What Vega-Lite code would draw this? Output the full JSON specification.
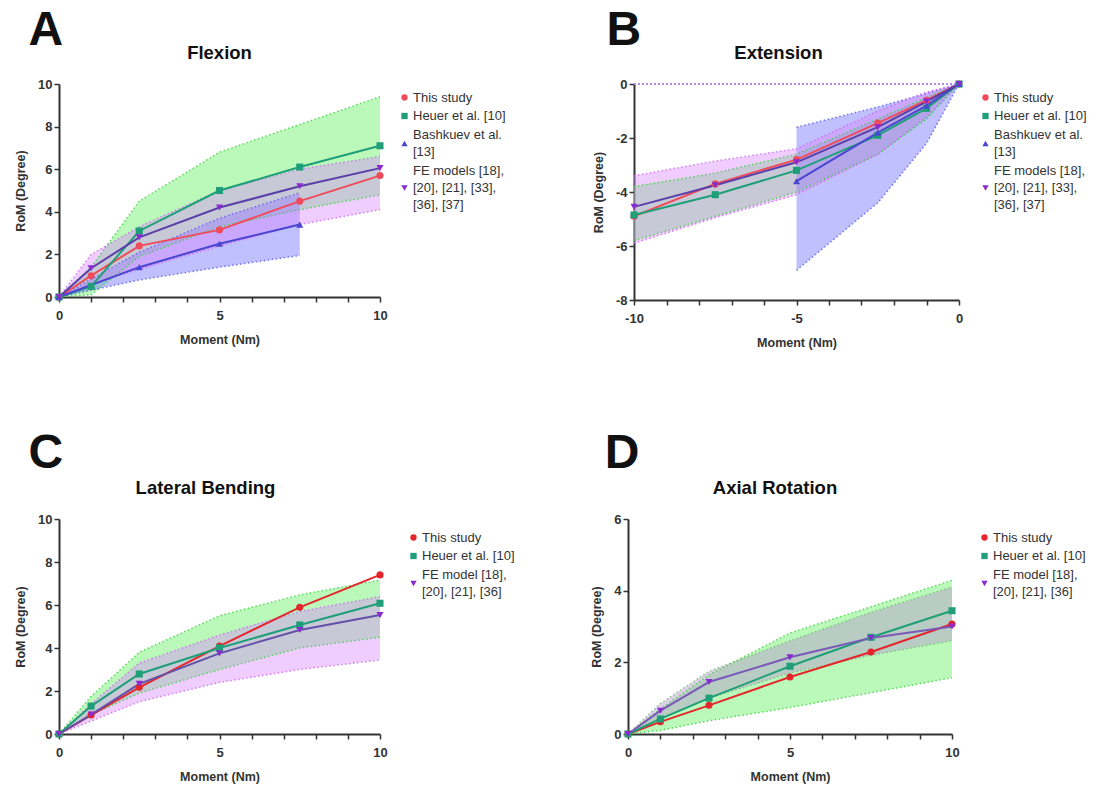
{
  "$schema": "https://vega.github.io/schema/vega-lite/v6.json",
  "background": "white",
  "padding": {"left": 14, "top": 6, "right": 5, "bottom": 5},
  "config": {
    "view": {"stroke": null},
    "font": "Liberation Sans",
    "style": {"guide-label": {"lineHeight": 17.2, "dy": {"signal": "datum.value === 'bash' || datum.value === 'fe2' ? -8.6 : datum.value === 'fe3' ? -17.2 : 0"}}},
    "axis": {"domainColor": "#333", "domainWidth": 2, "tickColor": "#333", "tickWidth": 1.5, "tickSize": 5, "labelFont": "Liberation Sans", "labelFontSize": 13, "labelFontWeight": "bold", "labelColor": "#333", "labelPadding": 2, "labelOverlap": false, "titleFont": "Liberation Sans", "titleFontSize": 12.5, "titleFontWeight": "bold", "titleColor": "#333", "grid": false},
    "axisX": {"labelPadding": 7, "titlePadding": 11, "labelFlush": false},
    "legend": {"orient": "right", "labelFont": "Liberation Sans", "labelFontSize": 13, "labelColor": "#333", "symbolSize": 40, "rowPadding": 4.5, "labelOffset": 2, "labelLimit": 300},
    "title": {"font": "Liberation Sans", "color": "#111"}
  },
  "datasets": {
    "flexion": [
      {"s": "this", "x": 0, "y": 0}, {"s": "this", "x": 1, "y": 1.0}, {"s": "this", "x": 2.5, "y": 2.4}, {"s": "this", "x": 5, "y": 3.15}, {"s": "this", "x": 7.5, "y": 4.5}, {"s": "this", "x": 10, "y": 5.7},
      {"s": "heuer", "x": 0, "y": 0, "lo": 0, "hi": 0}, {"s": "heuer", "x": 1, "y": 0.5, "lo": 0.1, "hi": 1.4}, {"s": "heuer", "x": 2.5, "y": 3.1, "lo": 1.9, "hi": 4.5}, {"s": "heuer", "x": 5, "y": 5.0, "lo": 3.3, "hi": 6.8}, {"s": "heuer", "x": 7.5, "y": 6.1, "lo": 4.1, "hi": 8.1}, {"s": "heuer", "x": 10, "y": 7.1, "lo": 4.8, "hi": 9.4},
      {"s": "bash", "x": 0, "y": 0, "lo": 0, "hi": 0}, {"s": "bash", "x": 2.5, "y": 1.4, "lo": 0.8, "hi": 2.1}, {"s": "bash", "x": 5, "y": 2.5, "lo": 1.4, "hi": 3.7}, {"s": "bash", "x": 7.5, "y": 3.4, "lo": 1.95, "hi": 4.9},
      {"s": "fe3", "x": 0, "y": 0, "lo": 0, "hi": 0}, {"s": "fe3", "x": 1, "y": 1.35, "lo": 0.6, "hi": 2.0}, {"s": "fe3", "x": 2.5, "y": 2.8, "lo": 1.3, "hi": 3.3}, {"s": "fe3", "x": 5, "y": 4.2, "lo": 2.4, "hi": 5.0}, {"s": "fe3", "x": 7.5, "y": 5.2, "lo": 3.4, "hi": 6.0}, {"s": "fe3", "x": 10, "y": 6.05, "lo": 4.1, "hi": 6.6}
    ],
    "extension": [
      {"s": "this", "x": -10, "y": -4.9}, {"s": "this", "x": -7.5, "y": -3.7}, {"s": "this", "x": -5, "y": -2.8}, {"s": "this", "x": -2.5, "y": -1.45}, {"s": "this", "x": -1, "y": -0.6}, {"s": "this", "x": 0, "y": 0},
      {"s": "heuer", "x": -10, "y": -4.85, "lo": -5.8, "hi": -3.8}, {"s": "heuer", "x": -7.5, "y": -4.1, "lo": -4.9, "hi": -3.3}, {"s": "heuer", "x": -5, "y": -3.2, "lo": -4.0, "hi": -2.6}, {"s": "heuer", "x": -2.5, "y": -1.9, "lo": -2.6, "hi": -1.3}, {"s": "heuer", "x": -1, "y": -0.9, "lo": -1.3, "hi": -0.5}, {"s": "heuer", "x": 0, "y": 0, "lo": 0, "hi": 0},
      {"s": "bash", "x": -5, "y": -3.6, "lo": -6.9, "hi": -1.6}, {"s": "bash", "x": -2.5, "y": -1.8, "lo": -4.4, "hi": -0.85}, {"s": "bash", "x": -1, "y": -0.8, "lo": -2.2, "hi": -0.35}, {"s": "bash", "x": 0, "y": 0, "lo": 0, "hi": 0},
      {"s": "fe3", "x": -10, "y": -4.55, "lo": -5.9, "hi": -3.4}, {"s": "fe3", "x": -7.5, "y": -3.75, "lo": -4.95, "hi": -2.85}, {"s": "fe3", "x": -5, "y": -2.9, "lo": -4.1, "hi": -2.4}, {"s": "fe3", "x": -2.5, "y": -1.6, "lo": -2.6, "hi": -1.0}, {"s": "fe3", "x": -1, "y": -0.65, "lo": -1.2, "hi": -0.3}, {"s": "fe3", "x": 0, "y": 0, "lo": 0, "hi": 0}
    ],
    "lateral": [
      {"s": "this", "x": 0, "y": 0}, {"s": "this", "x": 1, "y": 0.88}, {"s": "this", "x": 2.5, "y": 2.17}, {"s": "this", "x": 5, "y": 4.09}, {"s": "this", "x": 7.5, "y": 5.89}, {"s": "this", "x": 10, "y": 7.4},
      {"s": "heuer", "x": 0, "y": 0, "lo": 0, "hi": 0}, {"s": "heuer", "x": 1, "y": 1.3, "lo": 0.9, "hi": 1.75}, {"s": "heuer", "x": 2.5, "y": 2.79, "lo": 1.9, "hi": 3.8}, {"s": "heuer", "x": 5, "y": 4.0, "lo": 3.0, "hi": 5.5}, {"s": "heuer", "x": 7.5, "y": 5.07, "lo": 4.0, "hi": 6.47}, {"s": "heuer", "x": 10, "y": 6.08, "lo": 4.5, "hi": 7.16},
      {"s": "fe2", "x": 0, "y": 0, "lo": 0, "hi": 0}, {"s": "fe2", "x": 1, "y": 0.9, "lo": 0.6, "hi": 1.4}, {"s": "fe2", "x": 2.5, "y": 2.33, "lo": 1.5, "hi": 3.3}, {"s": "fe2", "x": 5, "y": 3.75, "lo": 2.4, "hi": 4.6}, {"s": "fe2", "x": 7.5, "y": 4.84, "lo": 3.0, "hi": 5.7}, {"s": "fe2", "x": 10, "y": 5.53, "lo": 3.44, "hi": 6.39}
    ],
    "axial": [
      {"s": "this", "x": 0, "y": 0}, {"s": "this", "x": 1, "y": 0.34}, {"s": "this", "x": 2.5, "y": 0.8}, {"s": "this", "x": 5, "y": 1.59}, {"s": "this", "x": 7.5, "y": 2.29}, {"s": "this", "x": 10, "y": 3.07},
      {"s": "heuer", "x": 0, "y": 0, "lo": 0, "hi": 0}, {"s": "heuer", "x": 1, "y": 0.42, "lo": 0.1, "hi": 0.7}, {"s": "heuer", "x": 2.5, "y": 1.0, "lo": 0.37, "hi": 1.65}, {"s": "heuer", "x": 5, "y": 1.89, "lo": 0.74, "hi": 2.82}, {"s": "heuer", "x": 7.5, "y": 2.7, "lo": 1.15, "hi": 3.55}, {"s": "heuer", "x": 10, "y": 3.44, "lo": 1.57, "hi": 4.29},
      {"s": "fe2", "x": 0, "y": 0, "lo": 0, "hi": 0}, {"s": "fe2", "x": 1, "y": 0.65, "lo": 0.45, "hi": 0.85}, {"s": "fe2", "x": 2.5, "y": 1.45, "lo": 1.0, "hi": 1.75}, {"s": "fe2", "x": 5, "y": 2.14, "lo": 1.7, "hi": 2.6}, {"s": "fe2", "x": 7.5, "y": 2.68, "lo": 2.2, "hi": 3.4}, {"s": "fe2", "x": 10, "y": 3.0, "lo": 2.6, "hi": 4.1}
    ]
  },
  "resolve": {"scale": {"color": "independent", "shape": "independent", "stroke": "independent", "fill": "independent"}},
  "spacing": 80,
  "vconcat": [
    {
      "resolve": {"scale": {"color": "independent", "shape": "independent", "stroke": "independent", "fill": "independent"}},
      "spacing": 79,
      "hconcat": [
        {
          "title": {"text": "A", "anchor": "start", "fontSize": 48, "fontWeight": "bold", "dx": 14, "offset": -11},
          "hconcat": [{
            "title": {"text": "Flexion", "fontSize": 18.5, "fontWeight": "bold", "anchor": "middle", "offset": 16},
            "width": 321, "height": 213,
            "data": {"name": "flexion"},
            "resolve": {"scale": {"stroke": "independent"}},
            "encoding": {"x": {"field": "x", "type": "quantitative", "scale": {"domain": [0, 10]}, "title": "Moment (Nm)", "axis": {"values": [0, 1, 2, 3, 4, 5, 6, 7, 8, 9, 10], "labelExpr": "datum.value % 5 == 0 ? toString(datum.value) : ''"}}},
            "layer": [
              {
                "transform": [{"filter": "isValid(datum.lo)"}],
                "layer": [
                  {"mark": {"type": "area", "fillOpacity": 0.42, "interpolate": "linear"},
                   "encoding": {"y": {"field": "lo", "type": "quantitative"}, "y2": {"field": "hi"},
                     "fill": {"field": "s", "type": "nominal", "legend": null, "scale": {"domain": ["heuer", "bash", "fe3"], "range": ["#5ef05e", "#6a6aff", "#d987ff"]}}}},
                  {"mark": {"type": "line", "strokeDash": [1.5, 2.5], "strokeWidth": 1.5, "strokeOpacity": 0.8},
                   "encoding": {"y": {"field": "lo", "type": "quantitative"},
                     "stroke": {"field": "s", "type": "nominal", "legend": null, "scale": {"domain": ["heuer", "bash", "fe3"], "range": ["#3ccf3c", "#5a5af5", "#cc66f0"]}}}},
                  {"mark": {"type": "line", "strokeDash": [1.5, 2.5], "strokeWidth": 1.5, "strokeOpacity": 0.8},
                   "encoding": {"y": {"field": "hi", "type": "quantitative"},
                     "stroke": {"field": "s", "type": "nominal", "legend": null, "scale": {"domain": ["heuer", "bash", "fe3"], "range": ["#3ccf3c", "#5a5af5", "#cc66f0"]}}}}
                ]
              },
              {"mark": {"type": "line", "strokeWidth": 2},
               "encoding": {"y": {"field": "y", "type": "quantitative"},
                 "stroke": {"field": "s", "type": "nominal", "legend": null, "scale": {"domain": ["this", "heuer", "bash", "fe3"], "range": ["#ef4b5a", "#1f9f78", "#4a46d0", "#5b3fa8"]}}}},
              {"mark": {"type": "point", "filled": true, "opacity": 1, "size": 50},
               "encoding": {
                 "y": {"field": "y", "type": "quantitative", "scale": {"domain": [0, 10]}, "title": "RoM (Degree)", "axis": {"values": [0, 2, 4, 6, 8, 10], "titlePadding": 10}},
                 "color": {"field": "s", "type": "nominal", "scale": {"domain": ["this", "heuer", "bash", "fe3"], "range": ["#ef4b5a", "#1f9f78", "#4a46d0", "#8a2bd0"]},
                   "legend": {"title": null, "offset": 3, "padding": 7, "labelExpr": "datum.value == 'this' ? 'This study' : datum.value == 'heuer' ? 'Heuer et al. [10]' : datum.value == 'bash' ? ['Bashkuev et al.', '[13]'] : ['FE models [18],', '[20], [21], [33],', '[36], [37]']"}},
                 "shape": {"field": "s", "type": "nominal", "scale": {"domain": ["this", "heuer", "bash", "fe3"], "range": ["circle", "square", "triangle-up", "triangle-down"]},
                   "legend": {"title": null, "offset": 3, "padding": 7, "labelExpr": "datum.value == 'this' ? 'This study' : datum.value == 'heuer' ? 'Heuer et al. [10]' : datum.value == 'bash' ? ['Bashkuev et al.', '[13]'] : ['FE models [18],', '[20], [21], [33],', '[36], [37]']"}}
               }}
            ]
          }]
        },
        {
          "title": {"text": "B", "anchor": "start", "fontSize": 48, "fontWeight": "bold", "dx": 14, "offset": -11},
          "hconcat": [{
            "title": {"text": "Extension", "fontSize": 18.5, "fontWeight": "bold", "anchor": "middle", "offset": 16, "dx": -18},
            "width": 325, "height": 216,
            "data": {"name": "extension"},
            "resolve": {"scale": {"stroke": "independent"}},
            "encoding": {"x": {"field": "x", "type": "quantitative", "scale": {"domain": [-10, 0]}, "title": "Moment (Nm)", "axis": {"values": [-10, -9, -8, -7, -6, -5, -4, -3, -2, -1, 0], "labelExpr": "datum.value % 5 == 0 ? toString(datum.value) : ''"}}},
            "layer": [
              {"mark": {"type": "rule", "strokeDash": [1.5, 2.5], "strokeWidth": 1.5, "color": "#b08ae8"},
               "encoding": {"x": {"datum": -10}, "x2": {"datum": 0}, "y": {"datum": 0}}},
              {
                "transform": [{"filter": "isValid(datum.lo)"}],
                "layer": [
                  {"mark": {"type": "area", "fillOpacity": 0.42, "interpolate": "linear"},
                   "encoding": {"y": {"field": "lo", "type": "quantitative"}, "y2": {"field": "hi"},
                     "fill": {"field": "s", "type": "nominal", "legend": null, "scale": {"domain": ["heuer", "bash", "fe3"], "range": ["#5ef05e", "#6a6aff", "#d987ff"]}}}},
                  {"mark": {"type": "line", "strokeDash": [1.5, 2.5], "strokeWidth": 1.5, "strokeOpacity": 0.8},
                   "encoding": {"y": {"field": "lo", "type": "quantitative"},
                     "stroke": {"field": "s", "type": "nominal", "legend": null, "scale": {"domain": ["heuer", "bash", "fe3"], "range": ["#3ccf3c", "#5a5af5", "#cc66f0"]}}}},
                  {"mark": {"type": "line", "strokeDash": [1.5, 2.5], "strokeWidth": 1.5, "strokeOpacity": 0.8},
                   "encoding": {"y": {"field": "hi", "type": "quantitative"},
                     "stroke": {"field": "s", "type": "nominal", "legend": null, "scale": {"domain": ["heuer", "bash", "fe3"], "range": ["#3ccf3c", "#5a5af5", "#cc66f0"]}}}}
                ]
              },
              {"mark": {"type": "line", "strokeWidth": 2},
               "encoding": {"y": {"field": "y", "type": "quantitative"},
                 "stroke": {"field": "s", "type": "nominal", "legend": null, "scale": {"domain": ["this", "heuer", "bash", "fe3"], "range": ["#ef4b5a", "#1f9f78", "#4a46d0", "#5b3fa8"]}}}},
              {"mark": {"type": "point", "filled": true, "opacity": 1, "size": 50},
               "encoding": {
                 "y": {"field": "y", "type": "quantitative", "scale": {"domain": [-8, 0]}, "title": "RoM (Degree)", "axis": {"values": [-8, -6, -4, -2, 0], "labelExpr": "toString(datum.value)", "titlePadding": 10}},
                 "color": {"field": "s", "type": "nominal", "scale": {"domain": ["this", "heuer", "bash", "fe3"], "range": ["#ef4b5a", "#1f9f78", "#4a46d0", "#8a2bd0"]},
                   "legend": {"title": null, "offset": 9, "padding": 7, "labelExpr": "datum.value == 'this' ? 'This study' : datum.value == 'heuer' ? 'Heuer et al. [10]' : datum.value == 'bash' ? ['Bashkuev et al.', '[13]'] : ['FE models [18],', '[20], [21], [33],', '[36], [37]']"}},
                 "shape": {"field": "s", "type": "nominal", "scale": {"domain": ["this", "heuer", "bash", "fe3"], "range": ["circle", "square", "triangle-up", "triangle-down"]},
                   "legend": {"title": null, "offset": 9, "padding": 7, "labelExpr": "datum.value == 'this' ? 'This study' : datum.value == 'heuer' ? 'Heuer et al. [10]' : datum.value == 'bash' ? ['Bashkuev et al.', '[13]'] : ['FE models [18],', '[20], [21], [33],', '[36], [37]']"}}
               }}
            ]
          }]
        }
      ]
    },
    {
      "resolve": {"scale": {"color": "independent", "shape": "independent", "stroke": "independent", "fill": "independent"}},
      "spacing": 63,
      "hconcat": [
        {
          "title": {"text": "C", "anchor": "start", "fontSize": 48, "fontWeight": "bold", "dx": 14, "offset": 1},
          "hconcat": [{
            "title": {"text": "Lateral Bending", "fontSize": 18.5, "fontWeight": "bold", "anchor": "middle", "offset": 16, "dx": -14},
            "width": 321, "height": 215,
            "data": {"name": "lateral"},
            "resolve": {"scale": {"stroke": "independent"}},
            "encoding": {"x": {"field": "x", "type": "quantitative", "scale": {"domain": [0, 10]}, "title": "Moment (Nm)", "axis": {"values": [0, 1, 2, 3, 4, 5, 6, 7, 8, 9, 10], "labelExpr": "datum.value % 5 == 0 ? toString(datum.value) : ''"}}},
            "layer": [
              {
                "transform": [{"filter": "isValid(datum.lo)"}],
                "layer": [
                  {"mark": {"type": "area", "fillOpacity": 0.42, "interpolate": "linear"},
                   "encoding": {"y": {"field": "lo", "type": "quantitative"}, "y2": {"field": "hi"},
                     "fill": {"field": "s", "type": "nominal", "legend": null, "scale": {"domain": ["heuer", "fe2"], "range": ["#5ef05e", "#d987ff"]}}}},
                  {"mark": {"type": "line", "strokeDash": [1.5, 2.5], "strokeWidth": 1.5, "strokeOpacity": 0.8},
                   "encoding": {"y": {"field": "lo", "type": "quantitative"},
                     "stroke": {"field": "s", "type": "nominal", "legend": null, "scale": {"domain": ["heuer", "fe2"], "range": ["#3ccf3c", "#cc66f0"]}}}},
                  {"mark": {"type": "line", "strokeDash": [1.5, 2.5], "strokeWidth": 1.5, "strokeOpacity": 0.8},
                   "encoding": {"y": {"field": "hi", "type": "quantitative"},
                     "stroke": {"field": "s", "type": "nominal", "legend": null, "scale": {"domain": ["heuer", "fe2"], "range": ["#3ccf3c", "#cc66f0"]}}}}
                ]
              },
              {"mark": {"type": "line", "strokeWidth": 2},
               "encoding": {"y": {"field": "y", "type": "quantitative"},
                 "stroke": {"field": "s", "type": "nominal", "legend": null, "scale": {"domain": ["this", "heuer", "fe2"], "range": ["#e3262b", "#1f9f78", "#6450a8"]}}}},
              {"mark": {"type": "point", "filled": true, "opacity": 1, "size": 50},
               "encoding": {
                 "y": {"field": "y", "type": "quantitative", "scale": {"domain": [0, 10]}, "title": "RoM (Degree)", "axis": {"values": [0, 2, 4, 6, 8, 10], "titlePadding": 10}},
                 "color": {"field": "s", "type": "nominal", "scale": {"domain": ["this", "heuer", "fe2"], "range": ["#e3262b", "#1f9f78", "#8a2bd0"]},
                   "legend": {"title": null, "offset": 7, "padding": 12, "labelExpr": "datum.value == 'this' ? 'This study' : datum.value == 'heuer' ? 'Heuer et al. [10]' : ['FE model [18],', '[20], [21], [36]']"}},
                 "shape": {"field": "s", "type": "nominal", "scale": {"domain": ["this", "heuer", "fe2"], "range": ["circle", "square", "triangle-down"]},
                   "legend": {"title": null, "offset": 7, "padding": 12, "labelExpr": "datum.value == 'this' ? 'This study' : datum.value == 'heuer' ? 'Heuer et al. [10]' : ['FE model [18],', '[20], [21], [36]']"}}
               }}
            ]
          }]
        },
        {
          "title": {"text": "D", "anchor": "start", "fontSize": 48, "fontWeight": "bold", "dx": 14, "offset": 1},
          "hconcat": [{
            "title": {"text": "Axial Rotation", "fontSize": 18.5, "fontWeight": "bold", "anchor": "middle", "offset": 16, "dx": -15},
            "width": 324, "height": 215,
            "data": {"name": "axial"},
            "resolve": {"scale": {"stroke": "independent"}},
            "encoding": {"x": {"field": "x", "type": "quantitative", "scale": {"domain": [0, 10]}, "title": "Moment (Nm)", "axis": {"values": [0, 1, 2, 3, 4, 5, 6, 7, 8, 9, 10], "labelExpr": "datum.value % 5 == 0 ? toString(datum.value) : ''"}}},
            "layer": [
              {
                "transform": [{"filter": "isValid(datum.lo)"}],
                "layer": [
                  {"mark": {"type": "area", "fillOpacity": 0.42, "interpolate": "linear"},
                   "encoding": {"y": {"field": "lo", "type": "quantitative"}, "y2": {"field": "hi"},
                     "fill": {"field": "s", "type": "nominal", "legend": null, "scale": {"domain": ["heuer", "fe2"], "range": ["#5ef05e", "#b890d0"]}}}},
                  {"mark": {"type": "line", "strokeDash": [1.5, 2.5], "strokeWidth": 1.5, "strokeOpacity": 0.8},
                   "encoding": {"y": {"field": "lo", "type": "quantitative"},
                     "stroke": {"field": "s", "type": "nominal", "legend": null, "scale": {"domain": ["heuer", "fe2"], "range": ["#3ccf3c", "#70c070"]}}}},
                  {"mark": {"type": "line", "strokeDash": [1.5, 2.5], "strokeWidth": 1.5, "strokeOpacity": 0.8},
                   "encoding": {"y": {"field": "hi", "type": "quantitative"},
                     "stroke": {"field": "s", "type": "nominal", "legend": null, "scale": {"domain": ["heuer", "fe2"], "range": ["#3ccf3c", "#70c070"]}}}}
                ]
              },
              {"mark": {"type": "line", "strokeWidth": 2},
               "encoding": {"y": {"field": "y", "type": "quantitative"},
                 "stroke": {"field": "s", "type": "nominal", "legend": null, "scale": {"domain": ["this", "heuer", "fe2"], "range": ["#e3262b", "#1f9f78", "#7a5ab8"]}}}},
              {"mark": {"type": "point", "filled": true, "opacity": 1, "size": 50},
               "encoding": {
                 "y": {"field": "y", "type": "quantitative", "scale": {"domain": [0, 6]}, "title": "RoM (Degree)", "axis": {"values": [0, 2, 4, 6], "titlePadding": 10}},
                 "color": {"field": "s", "type": "nominal", "scale": {"domain": ["this", "heuer", "fe2"], "range": ["#e3262b", "#1f9f78", "#8a2bd0"]},
                   "legend": {"title": null, "offset": 6, "padding": 12, "labelExpr": "datum.value == 'this' ? 'This study' : datum.value == 'heuer' ? 'Heuer et al. [10]' : ['FE model [18],', '[20], [21], [36]']"}},
                 "shape": {"field": "s", "type": "nominal", "scale": {"domain": ["this", "heuer", "fe2"], "range": ["circle", "square", "triangle-down"]},
                   "legend": {"title": null, "offset": 6, "padding": 12, "labelExpr": "datum.value == 'this' ? 'This study' : datum.value == 'heuer' ? 'Heuer et al. [10]' : ['FE model [18],', '[20], [21], [36]']"}}
               }}
            ]
          }]
        }
      ]
    }
  ]
}
